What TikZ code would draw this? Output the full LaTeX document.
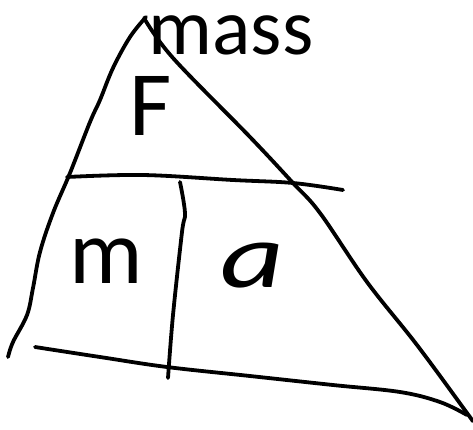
\documentclass[tikz,border=0pt]{standalone}
\usepackage{fontspec}
\setmainfont{Carlito}
\usetikzlibrary{positioning}

\begin{document}
\begin{tikzpicture}[
    x=1pt, y=-1pt,
    pen/.style={line width=3.8pt, line cap=round, line join=round, black},
    title/.style={anchor=base, inner sep=0pt, font=\fontsize{80}{80}\selectfont},
    letter/.style={anchor=base, inner sep=0pt, font=\fontsize{92}{92}\selectfont}
]
    \useasboundingbox (0,0) rectangle (473,429);

    % Title
    \node[title] (title) at (231,54) {mass};

    % Triangle sides
    \draw[pen] plot[smooth, tension=0.6] coordinates {(146,17) (130,37) (113,68) (100,100) (90,122) (70,173) (53,213) (40,252) (33,288) (27,315) (13,342) (8,357)};
    \draw[pen] plot[smooth, tension=0.6] coordinates {(144,18) (173,58) (250,137) (293,183) (320,213) (367,282) (417,345) (467,413) (472,420)};
    \draw[pen] plot[smooth, tension=0.6] coordinates {(35,347) (100,357) (167,367) (250,376) (333,385) (400,392) (440,402) (467,415)};

    % Dividers
    \draw[pen] plot[smooth, tension=0.6] coordinates {(67,177) (143,175) (233,180) (293,183) (343,190)};
    \draw[pen] plot[smooth, tension=0.6] coordinates {(180,182) (185,213) (182,232) (173,315) (168,378)};

    % Letters
    \node[letter] (force) at (151,135) {F};
    \node[letter] (mass) at (106,283) {m};
    \node[letter, xscale=1.35] (accel) at (252,287) {\itshape a};
\end{tikzpicture}
\end{document}
